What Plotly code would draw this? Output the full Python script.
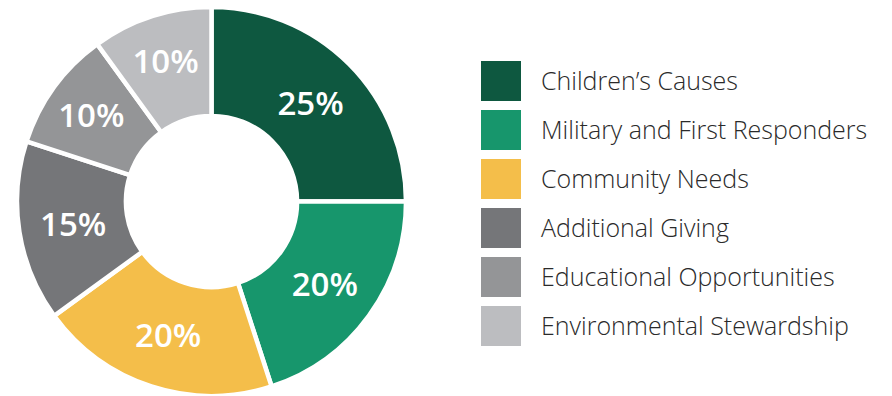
import plotly.graph_objects as go

# Share of giving by cause (percent)
categories = [
    "Children’s Causes",
    "Military and First Responders",
    "Community Needs",
    "Additional Giving",
    "Educational Opportunities",
    "Environmental Stewardship",
]
shares = [25, 20, 20, 15, 10, 10]
colors = ["#0e5840", "#17966c", "#f4be4a", "#757679", "#949597", "#bcbdc0"]

W, H = 892, 396

fig = go.Figure(
    go.Pie(
        labels=categories,
        values=shares,
        sort=False,
        direction="clockwise",
        rotation=0,
        hole=0.44,
        marker=dict(colors=colors, line=dict(color="white", width=4.5)),
        texttemplate="%{value}%",
        textposition="inside",
        insidetextorientation="horizontal",
        textfont=dict(family="Open Sans", size=33, color="white", weight=600),
        domain=dict(x=[17 / W, 406 / W], y=[0, 1 - 7 / H]),
        showlegend=False,
        hoverinfo="label+percent",
    )
)

# Legend drawn as large swatches with labels beside them
sw_x0, sw_x1, sw_size, row_top, row_step = 481, 521, 40, 61, 49
shapes, annotations = [], []
for i, (name, col) in enumerate(zip(categories, colors)):
    top = row_top + i * row_step
    shapes.append(dict(
        type="rect", xref="paper", yref="paper",
        x0=sw_x0 / W, x1=sw_x1 / W,
        y0=1 - (top + sw_size) / H, y1=1 - top / H,
        fillcolor=col, line=dict(width=0),
    ))
    annotations.append(dict(
        text=name, xref="paper", yref="paper",
        x=539 / W, y=1 - (top + sw_size / 2 - 1) / H,
        xanchor="left", yanchor="middle", showarrow=False,
        font=dict(family="Open Sans", size=25, color="#2a2a2a", weight=300),
    ))

fig.update_layout(
    width=W, height=H,
    margin=dict(l=0, r=0, t=0, b=0),
    paper_bgcolor="white", plot_bgcolor="white",
    shapes=shapes, annotations=annotations,
)

fig.write_html("out.html")
